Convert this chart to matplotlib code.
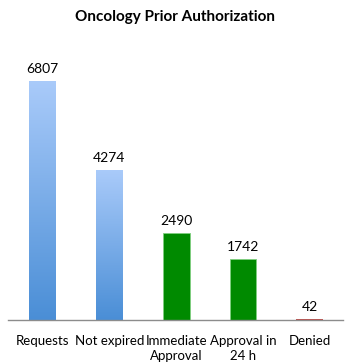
import matplotlib
matplotlib.use("Agg")
import matplotlib.pyplot as plt
import numpy as np
from matplotlib.colors import LinearSegmentedColormap

categories = ["Requests", "Not expired", "Immediate\nApproval", "Approval in\n24 h", "Denied"]
values = [6807, 4274, 2490, 1742, 42]
kinds = ["blue", "blue", "green", "green", "red"]

plt.rcParams['font.family'] = ['Lato', 'DejaVu Sans']

fig = plt.figure(figsize=(3.5, 3.64), dpi=100)
ax = fig.add_axes([8/350, 44/364, 335/350, 281/364])

x = np.arange(len(categories))
width = 0.40
cmap = LinearSegmentedColormap.from_list("bl", ["#4a8ed6", "#aacbfa"])
grad = np.linspace(0, 1, 256).reshape(-1, 1)

for xi, v, k in zip(x, values, kinds):
    if k == "blue":
        b = ax.bar(xi, v, width, color="none", edgecolor="none")[0]
        im = ax.imshow(grad, cmap=cmap, origin="lower", aspect="auto",
                       extent=(xi - width/2, xi + width/2, 0, v), zorder=2)
        im.set_clip_path(b)
    elif k == "green":
        ax.bar(xi, v, width, color="#008a00", edgecolor="#7fcf7f", linewidth=0.6, zorder=2)
    else:
        ax.bar(xi, v, width, color="#c0504d", edgecolor="none", zorder=2)
    ax.text(xi, v + 170, str(v), ha="center", va="bottom", fontsize=10, color="black")

ax.set_xlim(-0.52, 4.5)
ax.set_ylim(0, 8000)
ax.set_xticks(x)
ax.set_xticklabels(categories, fontsize=9.5, linespacing=1.3)
ax.tick_params(axis="x", length=0, pad=11)
ax.set_yticks([])
for s in ["top", "left", "right"]:
    ax.spines[s].set_visible(False)
ax.spines["bottom"].set_color("#8c8c8c")
ax.spines["bottom"].set_linewidth(1.0)

fig.text(0.5, 1 - 17/364, "Oncology Prior Authorization", ha="center", va="center",
         fontsize=11, fontweight="bold")

fig.savefig("out.png", dpi=100)
